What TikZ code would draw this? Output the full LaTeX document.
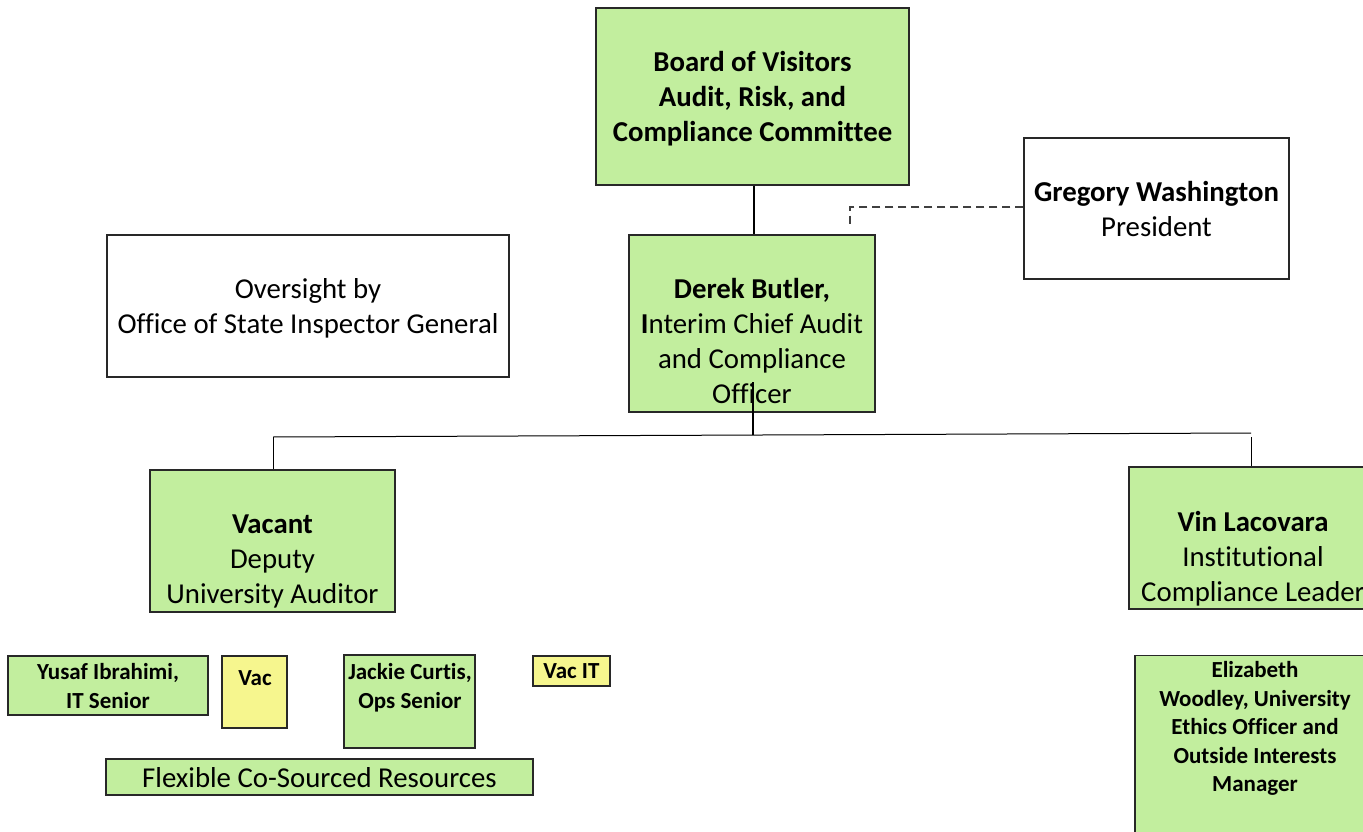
\documentclass[tikz,border=0pt]{standalone}
\usepackage{fontspec}
\setmainfont[Ligatures=NoCommon]{Carlito}
\definecolor{boxgreen}{RGB}{194,238,158}
\definecolor{boxyellow}{RGB}{246,246,142}
\definecolor{edge}{RGB}{40,40,40}
\begin{document}
\begin{tikzpicture}[x=1pt,y=-1pt,
  box/.style={draw=edge, line width=1.3pt, rectangle, inner sep=0pt},
  gbox/.style={box, fill=boxgreen},
  ybox/.style={box, fill=boxyellow},
  wbox/.style={box, fill=white},
  big/.style={font=\fontsize{28.8}{35}\selectfont, align=center, inner sep=0pt},
  small/.style={font=\fontsize{23}{28.5}\selectfont\bfseries, align=center, inner sep=0pt},
  conn/.style={draw=black, line width=1pt},
  dashconn/.style={draw=black!75, line width=1.4pt, dash pattern=on 8pt off 5pt}
]
\useasboundingbox (0,0) rectangle (1363,832);
\clip (0,0) rectangle (1363,832);
\fill[white] (0,0) rectangle (1363,832);

% top
\node[gbox, minimum width=313, minimum height=177] (board) at (752.5,96.5) {};
\node[big] (boardt) at (752.5,99)
  {\bfseries Board of Visitors\\\bfseries Audit, Risk, and\\\bfseries Compliance Committee};
\node[wbox, minimum width=265, minimum height=141] (greg) at (1156.5,208.5) {};
\node[big] (gregt) at (1156.5,209.5) {\textbf{Gregory Washington}\\President};
\node[wbox, minimum width=402, minimum height=142] (osig) at (308,306) {};
\node[big] (osigt) at (308,308) {Oversight by\\Office of State Inspector General};
\node[gbox, minimum width=246, minimum height=177] (derek) at (752,323.5) {};
\node[big] (derekt) at (752,340.5)
  {\textbf{Derek Butler,}\\\textbf{I}nterim Chief Audit\\and Compliance\\Officer};

% second level
\node[gbox, minimum width=245, minimum height=142] (vacant) at (272.5,541) {};
\node[big] (vacantt) at (272.5,561) {\textbf{Vacant}\\Deputy\\University Auditor};
\node[gbox, minimum width=248, minimum height=142] (vin) at (1253,538) {};
\node[big] (vint) at (1253,558.5) {\textbf{Vin Lacovara}\\Institutional\\Compliance Leader};

% staff
\node[gbox, minimum width=200, minimum height=59] (yusaf) at (108,685.5) {};
\node[small] (yusaft) at (108,686) {Yusaf Ibrahimi,\\IT Senior};
\node[ybox, minimum width=65, minimum height=72] (vac) at (254.5,692) {};
\node[small, anchor=north] (vact) at (255,670.5) {Vac};
\node[gbox, minimum width=131, minimum height=93] (jackie) at (409.5,701.5) {};
\node[small, anchor=north] (jackiet) at (410,663.5) {Jackie Curtis,\\Ops Senior};
\node[ybox, minimum width=77, minimum height=30, small] (vacit) at (571.5,671) {Vac IT};
\node[gbox, minimum width=427, minimum height=36] (flex) at (319.5,777) {};
\node[big] (flext) at (319.5,778) {Flexible Co-Sourced Resources};
\node[gbox, minimum width=240, minimum height=210, anchor=north] (eliz) at (1255,655) {};
\node[small, anchor=north] (elizt) at (1255,661.5)
  {Elizabeth\\Woodley, University\\Ethics Officer and\\Outside Interests\\Manager};

% connectors
\draw[conn, line width=2pt] (board.south -| 754,0) -- (derek.north -| 754,0);
\coordinate (dashend) at (850,228);
\draw[dashconn] (greg.west |- 0,207) -| (dashend);
\coordinate (dstart) at (753,382);
\coordinate (busL) at (273,437);
\coordinate (busR) at (1251,433);
\coordinate (busR2) at (1251,437);
\draw[conn, line width=1.5pt] (dstart) -- (753,435);
\draw[conn] (busL) -- (busR);
\draw[conn] (busL) -- (busL |- vacant.north);
\draw[conn] (busR2) -- (busR2 |- vin.north);
\end{tikzpicture}
\end{document}
